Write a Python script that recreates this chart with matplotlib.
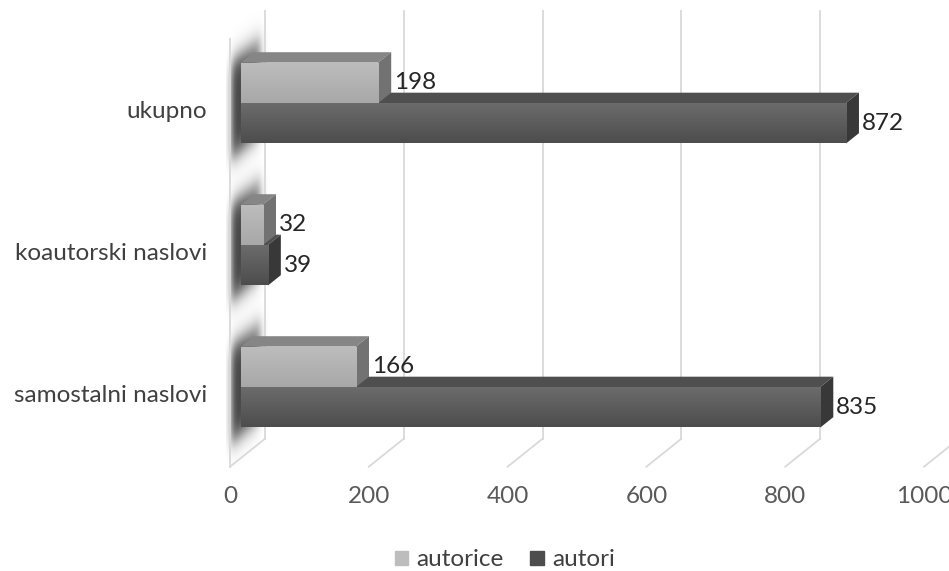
import numpy as np
import matplotlib.pyplot as plt
from matplotlib.patches import Polygon, Rectangle
from matplotlib.colors import LinearSegmentedColormap

plt.rcParams['font.family'] = ['Lato', 'DejaVu Sans']

# data
categories = ['samostalni naslovi', 'koautorski naslovi', 'ukupno']
autorice = [166, 32, 198]
autori = [835, 39, 872]
series_names = ['autorice', 'autori']
ticks = [0, 200, 400, 600, 800, 1000]

# fake 3d geometry (value units / category units)
DX = 50.4      # depth offset in x for full floor depth
DY = 0.197     # depth offset in y for full floor depth
D0 = 0.31      # depth of bar front face
BD = 0.37      # bar depth
H = 0.285      # bar thickness
FLOOR = -0.5
TOP = 2.51
FS = 17.5

grid_col = '#d9d9d9'
front_cols = {'autorice': ('#bdbdbd', '#a8a8a8'), 'autori': ('#6c6c6c', '#4d4d4d')}
top_cols = {'autorice': '#868686', 'autori': '#4f4f4f'}
side_cols = {'autorice': '#727272', 'autori': '#383838'}

fig = plt.figure(figsize=(9.49, 5.71), dpi=100)
ax = fig.add_axes([0, 0, 1, 1])
ax.axis('off')
xlim = (-331.4, 1036.0)
ylim = (-1.2345, 2.7866)


def softbox(x, a, b, s):
    return 0.5 * (np.tanh((x - a) / s) - np.tanh((x - b) / s))


# back wall grid + floor slants
for v in ticks:
    ax.plot([v + DX, v + DX], [FLOOR + DY, TOP + DY], color=grid_col, lw=1.3, zorder=2)
    ax.plot([v, v + DX], [FLOOR, FLOOR + DY], color=grid_col, lw=1.3, zorder=2)
ax.plot([0, 0], [FLOOR, TOP], color=grid_col, lw=1.3, zorder=2)

# blurred shadow on the left wall
for c0 in range(len(categories)):
    xs = np.linspace(-6, DX + 6, 140)
    ys = np.linspace(c0 - 0.8, c0 + 0.8 + DY, 260)
    X, Y = np.meshgrid(xs, ys)
    d = X / DX
    c = Y - DY * d
    a = softbox(c, c0 - 0.34, c0 + 0.34, 0.09) * softbox(d, 0.04, 0.85, 0.12) * (1 - 0.4 * d)
    img = np.zeros(X.shape + (4,))
    img[..., 3] = np.clip(a * 0.82, 0, 1)
    ax.imshow(img, extent=(xs[0], xs[-1], ys[0], ys[-1]), origin='lower',
              aspect='auto', interpolation='bilinear', zorder=1)

ypos = np.arange(len(categories))
x0 = D0 * DX
yc = ypos + D0 * DY


def draw_bars(vals, name, offset):
    y = yc + offset
    bars = ax.barh(y, vals, height=H, left=x0, color=front_cols[name][1], zorder=3)
    cmap = LinearSegmentedColormap.from_list(name, [front_cols[name][1], front_cols[name][0]])
    for b, v in zip(bars, vals):
        bx, by = b.get_x(), b.get_y()
        bw, bh = b.get_width(), b.get_height()
        im = ax.imshow(np.linspace(0, 1, 50).reshape(-1, 1), cmap=cmap, origin='lower',
                       extent=(bx, bx + bw, by, by + bh), aspect='auto', zorder=3.1)
        im.set_clip_path(b)
        yt, yb = by + bh, by
        xr = bx + bw
        top = Polygon([(bx, yt), (xr, yt), (xr + BD * DX, yt + BD * DY), (bx + BD * DX, yt + BD * DY)],
                      closed=True, facecolor=top_cols[name], edgecolor='none', zorder=3)
        side = Polygon([(xr, yb), (xr, yt), (xr + BD * DX, yt + BD * DY), (xr + BD * DX, yb + BD * DY)],
                       closed=True, facecolor=side_cols[name], edgecolor='none', zorder=3)
        ax.add_patch(top)
        ax.add_patch(side)
        ax.text(xr + BD * DX + 4, by + bh / 2, str(v), ha='left', va='center',
                fontsize=FS, color='#262626', zorder=5)


draw_bars(autori, 'autori', -H / 2)
draw_bars(autorice, 'autorice', H / 2)

# category labels
for i, cat in enumerate(categories):
    ax.text(-33, i, cat, ha='right', va='center', fontsize=FS, color='#404040')

# value axis labels
for v in ticks:
    ax.text(v, -0.713, str(v), ha='center', va='center', fontsize=FS, color='#595959')

ax.set_xlim(*xlim)
ax.set_ylim(*ylim)

handles = [Rectangle((0, 0), 1, 1, color=front_cols[n][0] if n == 'autorice' else front_cols[n][1])
           for n in series_names]
fig.legend(handles, series_names, loc='center', bbox_to_anchor=(0.532, 1 - 560 / 571), ncol=2,
           frameon=False, fontsize=FS, handlelength=0.55, handleheight=0.55, handletextpad=0.35,
           columnspacing=1.1, labelcolor='#404040', borderpad=0.1)

fig.savefig('out.png', dpi=100)
